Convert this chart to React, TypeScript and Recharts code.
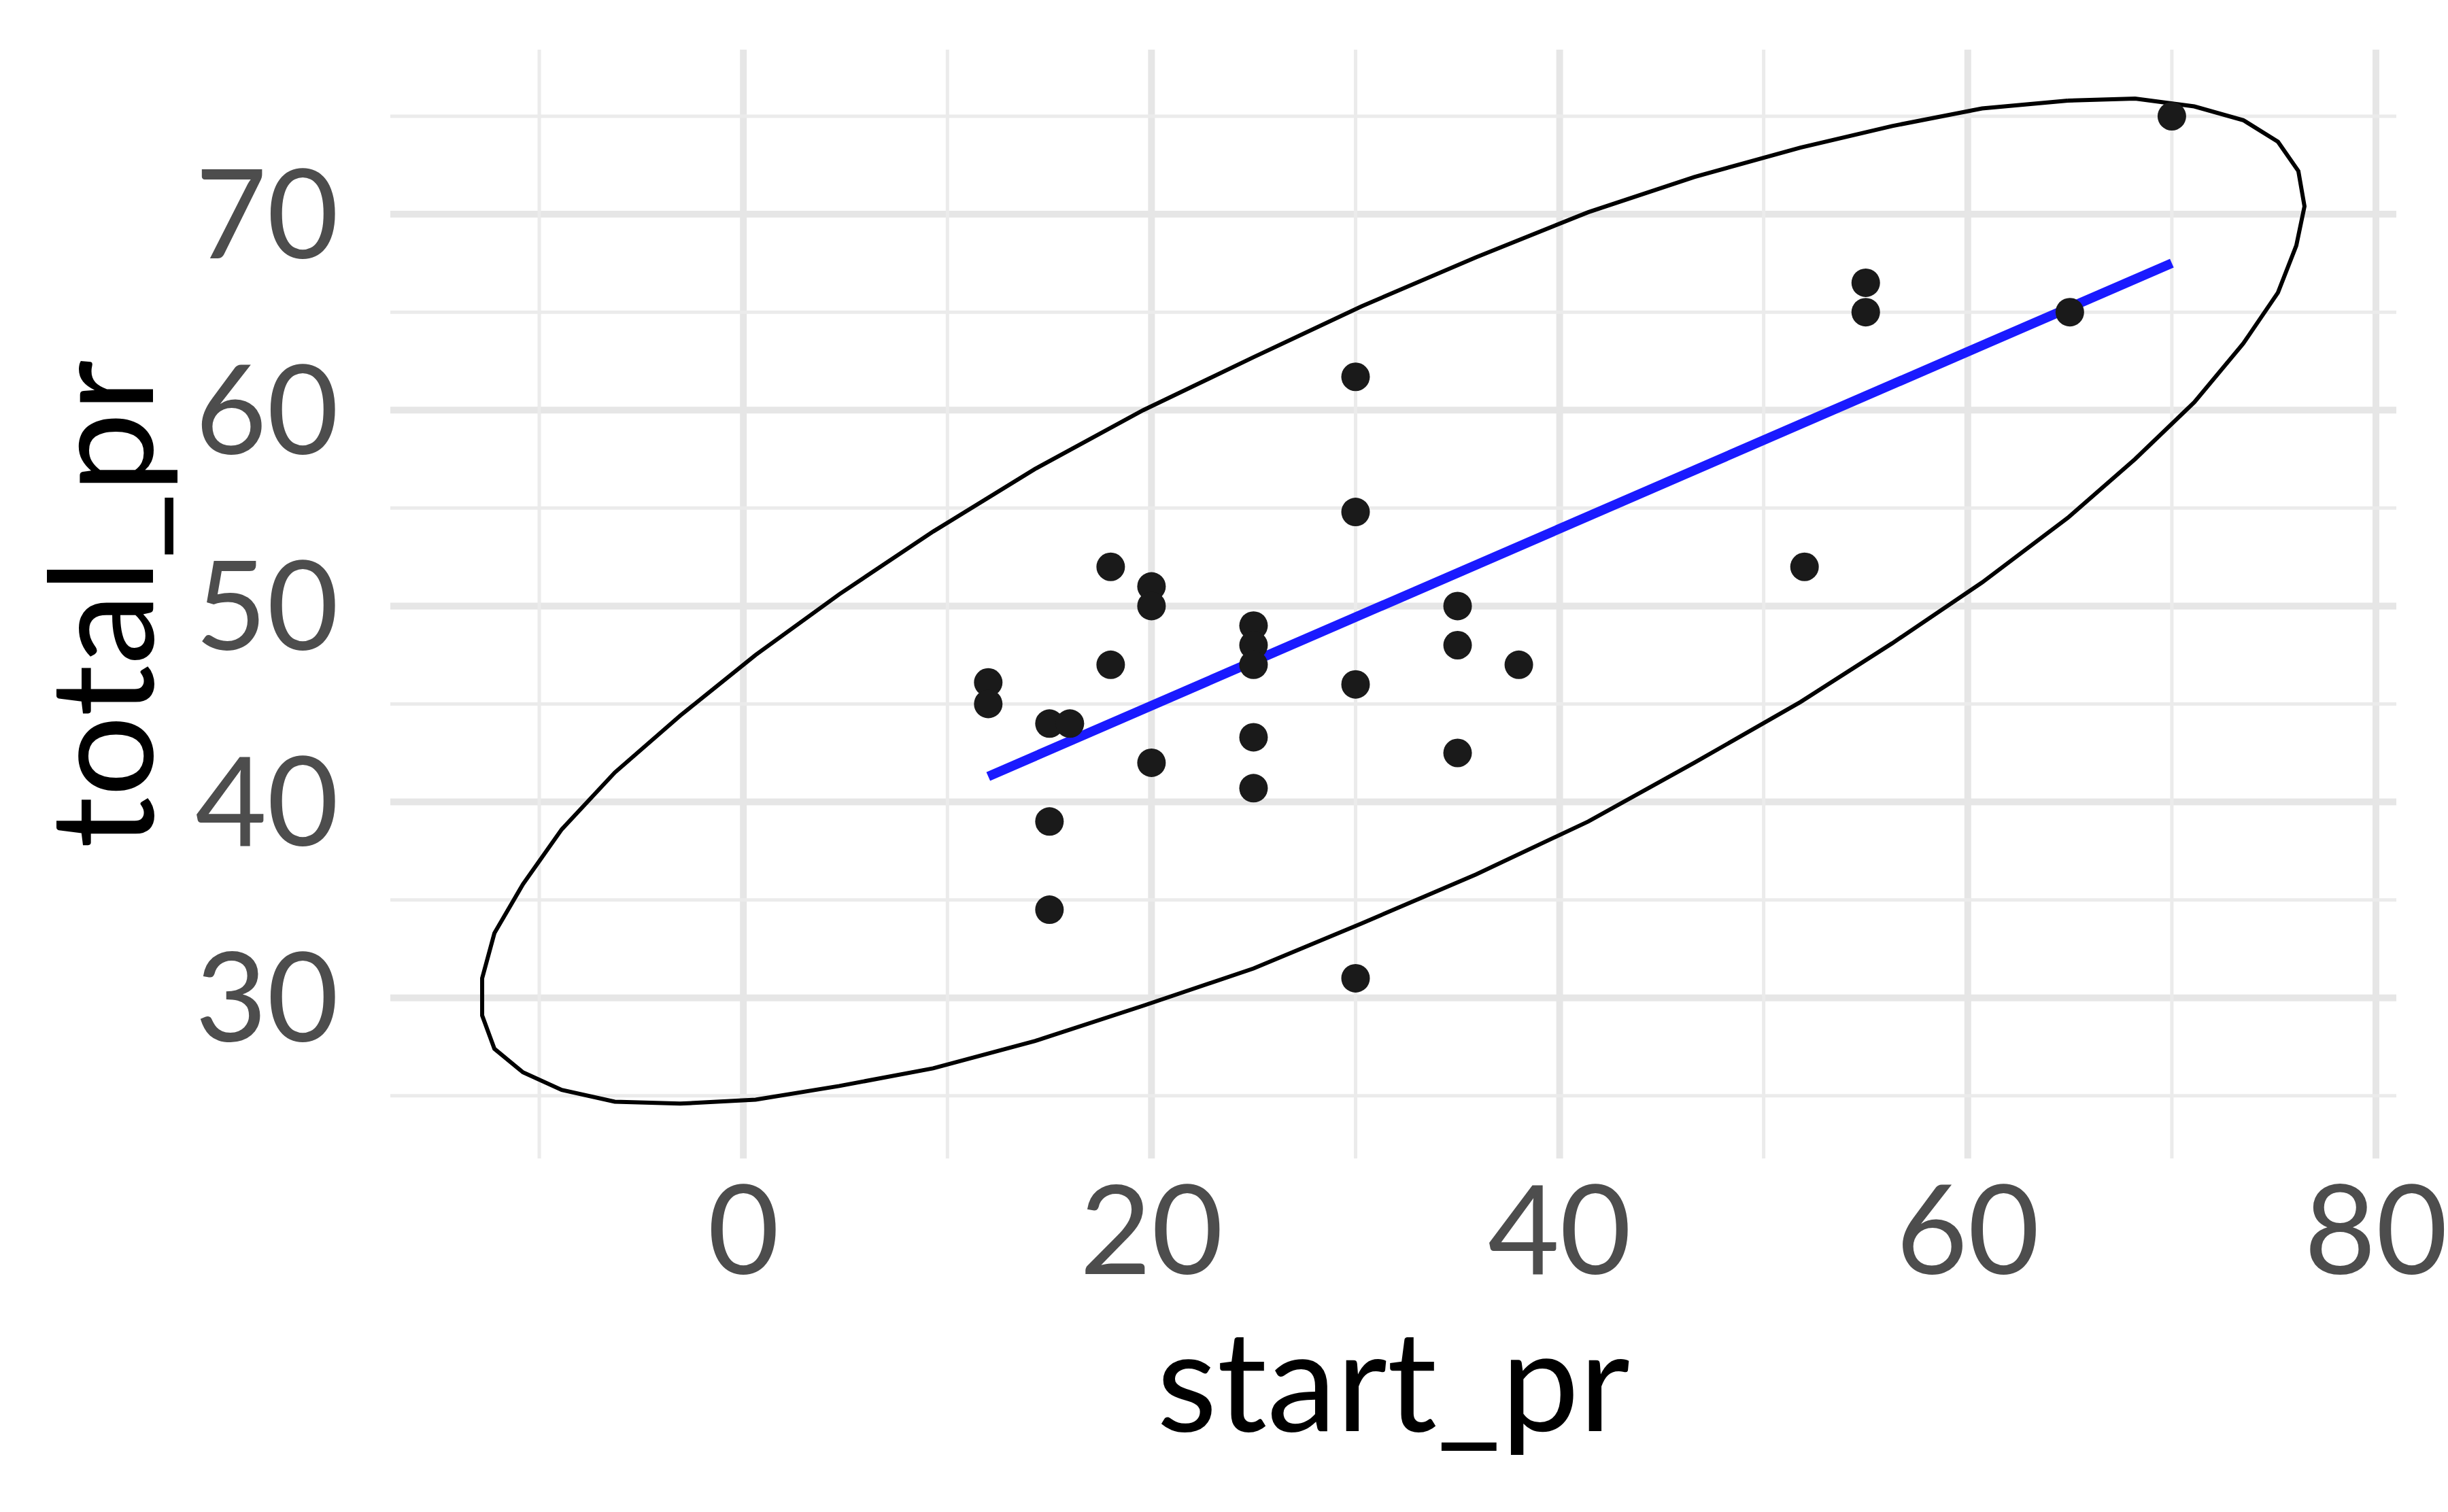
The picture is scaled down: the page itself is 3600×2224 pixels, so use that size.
import { ScatterChart, Scatter, XAxis, YAxis, CartesianGrid, ReferenceLine } from "recharts";

const points = [
  { x: 12, y: 46.1 }, { x: 12, y: 45 }, { x: 15, y: 44 }, { x: 16, y: 44 },
  { x: 15, y: 39 }, { x: 15, y: 34.5 }, { x: 18, y: 52 }, { x: 18, y: 47 },
  { x: 20, y: 51 }, { x: 20, y: 50 }, { x: 20, y: 42 }, { x: 25, y: 49 },
  { x: 25, y: 48 }, { x: 25, y: 47 }, { x: 25, y: 43.3 }, { x: 25, y: 40.7 },
  { x: 30, y: 61.7 }, { x: 30, y: 54.8 }, { x: 30, y: 46 }, { x: 30, y: 31 },
  { x: 35, y: 50 }, { x: 35, y: 48 }, { x: 35, y: 42.5 }, { x: 38, y: 47 },
  { x: 52, y: 52 }, { x: 55, y: 66.5 }, { x: 55, y: 65 }, { x: 65, y: 65 },
  { x: 70, y: 75 },
];

const fitLine = [{ x: 12, y: 41.3 }, { x: 70, y: 67.5 }];

const ellipse = [
  [64.9, 75.8], [68.2, 75.9], [71.1, 75.5], [73.5, 74.8], [75.2, 73.7], [76.2, 72.2],
  [76.5, 70.4], [76.1, 68.4], [75.2, 66.0], [73.5, 63.4], [71.1, 60.4], [68.2, 57.5],
  [64.9, 54.5], [60.7, 51.2], [56.3, 48.1], [51.8, 45.1], [46.6, 42.0], [41.4, 39.0],
  [35.9, 36.3], [30.3, 33.8], [25.0, 31.5], [19.6, 29.6], [14.3, 27.8], [9.3, 26.4],
  [4.7, 25.5], [0.6, 24.8], [-3.1, 24.6], [-6.3, 24.7], [-8.9, 25.3], [-10.8, 26.2],
  [-12.2, 27.4], [-12.8, 29.1], [-12.8, 31.0], [-12.2, 33.3], [-10.8, 35.8], [-8.9, 38.6],
  [-6.3, 41.5], [-3.1, 44.4], [0.6, 47.5], [4.7, 50.6], [9.3, 53.8], [14.3, 57.0],
  [19.6, 60.0], [25.0, 62.7], [30.3, 65.3], [35.9, 67.8], [41.4, 70.1], [46.6, 71.9],
  [51.8, 73.4], [56.3, 74.5], [60.7, 75.4], [64.9, 75.8],
].map(([x, y]) => ({ x, y }));

const xTicks = [0, 20, 40, 60, 80];
const yTicks = [30, 40, 50, 60, 70];
const xMinor = [-10, 10, 30, 50, 70];
const yMinor = [25, 35, 45, 55, 65, 75];

const tickStyle = { fontSize: 182, fill: "#4d4d4d", fontFamily: "Lato" };

export default function App() {
  document.body.style.margin = "0";
  return (
    <ScatterChart width={3600} height={2224} margin={{ top: 73, right: 76, left: 0, bottom: 0 }}>
      {xMinor.map((v) => (
        <ReferenceLine key={"x" + v} x={v} stroke="#ebebeb" strokeWidth={5} />
      ))}
      {yMinor.map((v) => (
        <ReferenceLine key={"y" + v} y={v} stroke="#ebebeb" strokeWidth={5} />
      ))}
      <CartesianGrid stroke="#e6e6e6" strokeWidth={10} horizontalValues={yTicks} verticalValues={xTicks} />
      <XAxis
        type="number"
        dataKey="x"
        domain={[-17.3, 81]}
        ticks={xTicks}
        allowDataOverflow
        axisLine={false}
        tickLine={false}
        tick={tickStyle}
        tickMargin={35}
        height={520}
        label={{ value: "start_pr", position: "insideTop", offset: 255, fontSize: 205, fill: "#000", fontFamily: "Lato" }}
      />
      <YAxis
        type="number"
        dataKey="y"
        domain={[21.8, 78.4]}
        ticks={yTicks}
        allowDataOverflow
        axisLine={false}
        tickLine={false}
        tick={tickStyle}
        tickMargin={70}
        width={574}
        label={{ value: "total_pr", angle: -90, position: "insideLeft", offset: 150, fontSize: 212, fill: "#000", fontFamily: "Lato", style: { textAnchor: "middle" } }}
      />
      <Scatter data={ellipse} line={{ stroke: "#000", strokeWidth: 6 }} shape={() => null} isAnimationActive={false} />
      <Scatter data={fitLine} line={{ stroke: "#1a1aff", strokeWidth: 14 }} shape={() => null} isAnimationActive={false} />
      <Scatter data={points} fill="#1a1a1a" shape={(p: any) => <circle cx={p.cx} cy={p.cy} r={21} fill="#1a1a1a" />} isAnimationActive={false} />
    </ScatterChart>
  );
}
